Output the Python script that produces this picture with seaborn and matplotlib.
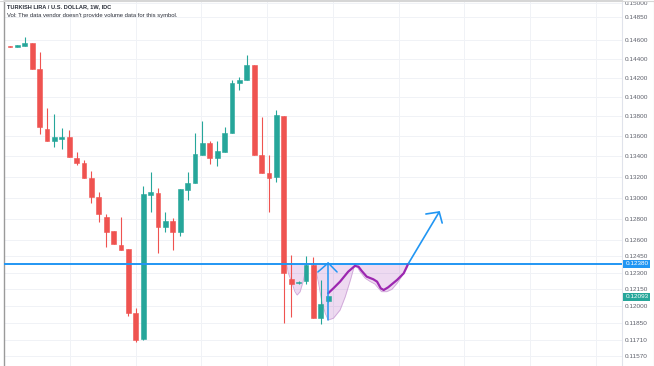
import matplotlib
matplotlib.use('Agg')
import matplotlib.pyplot as plt
import numpy as np
import seaborn as sns
from matplotlib.ticker import NullLocator
from matplotlib.lines import Line2D

# weekly candles, TRY/USD
opens = [0.14536, 0.14525, 0.14536, 0.14568, 0.14292, 0.13674, 0.13554, 0.13574, 0.13594, 0.13385,
         0.13336, 0.13190, 0.13006, 0.12816, 0.12685, 0.12555, 0.12518, 0.11941, 0.11714, 0.13026,
         0.13045, 0.12722, 0.12778, 0.12675, 0.13074, 0.13141, 0.13415, 0.13534, 0.13385, 0.13444,
         0.13634, 0.14145, 0.14176, 0.14334, 0.13415, 0.13238, 0.13200, 0.13805, 0.12244, 0.12208,
         0.12226, 0.12371, 0.11897, 0.12047]
highs = [0.14540, 0.14545, 0.14632, 0.14568, 0.14472, 0.13887, 0.13826, 0.13684, 0.13664, 0.13444,
         0.13366, 0.13258, 0.13054, 0.12844, 0.12685, 0.12816, 0.12518, 0.11985, 0.13112, 0.13248,
         0.13093, 0.12863, 0.12807, 0.13083, 0.13248, 0.13634, 0.13755, 0.13554, 0.13554, 0.13694,
         0.14176, 0.14208, 0.14440, 0.14334, 0.13795, 0.13415, 0.13866, 0.13805, 0.12462, 0.12226,
         0.12453, 0.12444, 0.12235, 0.12093]
lows = [0.14525, 0.14520, 0.14536, 0.14292, 0.13624, 0.13554, 0.13494, 0.13474, 0.13395, 0.13317,
        0.13190, 0.12949, 0.12769, 0.12536, 0.12564, 0.12508, 0.11915, 0.11689, 0.11706, 0.12863,
        0.12481, 0.12675, 0.12508, 0.12638, 0.12978, 0.13141, 0.13415, 0.13326, 0.13307, 0.13444,
        0.13634, 0.14072, 0.14176, 0.13415, 0.13238, 0.12863, 0.13151, 0.11854, 0.11906, 0.12199,
        0.12199, 0.11897, 0.11845, 0.12040]
closes = [0.14525, 0.14545, 0.14568, 0.14292, 0.13694, 0.13554, 0.13594, 0.13594, 0.13395, 0.13336,
          0.13190, 0.13006, 0.12844, 0.12675, 0.12564, 0.12508, 0.11941, 0.11706, 0.13035, 0.13054,
          0.12722, 0.12778, 0.12675, 0.13083, 0.13141, 0.13425, 0.13534, 0.13385, 0.13454, 0.13634,
          0.14145, 0.14176, 0.14334, 0.13415, 0.13238, 0.13190, 0.13816, 0.12298, 0.12199, 0.12217,
          0.12371, 0.11897, 0.12020, 0.12093]

yticks = [0.15000, 0.14850, 0.14600, 0.14400, 0.14200, 0.14000, 0.13800, 0.13600, 0.13400, 0.13200,
          0.13000, 0.12800, 0.12600, 0.12450, 0.12300, 0.12150, 0.12000, 0.11850, 0.11710, 0.11570]
vgrid = [8.1, 17.0, 25.8, 34.7, 43.6, 52.5, 61.4, 70.3, 79.2]

level = 0.12380
last_price = 0.12093

# drawn pattern (cup shapes and path)
cup_a_x = [37.4, 37.6, 38.1, 38.5, 38.8, 39.2, 39.6, 39.9, 40.0]
cup_a_low = [0.1238, 0.1230, 0.1221, 0.1213, 0.1210, 0.1213, 0.1222, 0.1231, 0.1238]
cup_b_x = [41.2, 41.7, 42.1, 42.6, 43.0, 43.7, 44.6, 45.3, 46.0, 46.6]
cup_b_low = [0.1238, 0.12205, 0.12056, 0.11938, 0.11880, 0.11895, 0.11967, 0.12085, 0.12235, 0.1238]
cup_c_x = [46.6, 46.9, 47.3, 48.0, 48.7, 49.3, 49.8, 50.2, 50.9, 51.6, 52.3, 52.9, 53.6, 53.8]
cup_c_low = [0.1238, 0.12355, 0.12310, 0.12250, 0.12220, 0.12199, 0.12160, 0.12130, 0.12130,
             0.12151, 0.12205, 0.12265, 0.12341, 0.1238]
path_x = [43.0, 43.7, 44.6, 45.7, 46.6, 47.1, 47.5, 48.2, 49.1, 49.6, 50.1, 50.5, 51.1, 52.3, 53.2, 53.8]
path_y = [0.12116, 0.12160, 0.12220, 0.12310, 0.12362, 0.12355, 0.12319, 0.12265, 0.12241, 0.12220,
          0.12160, 0.12145, 0.12169, 0.12235, 0.12295, 0.12380]

UP = '#26a69a'
DOWN = '#ef5350'
BLUE = '#2196f3'
PURPLE = '#9c27b0'

sns.set_style('white')
plt.rcParams['font.family'] = ['Liberation Sans', 'DejaVu Sans']

fig = plt.figure(figsize=(6.54, 3.66), dpi=100)
ax = fig.add_axes([4 / 654, 0, 618 / 654, 1])

idx = np.arange(len(opens))
o = np.array(opens)
c = np.array(closes)
cols = [UP if cc >= oo else DOWN for oo, cc in zip(o, c)]

ax.vlines(idx, lows, highs, colors=cols, linewidth=0.8, zorder=3)
ax.bar(idx, np.abs(c - o), bottom=np.minimum(o, c), width=0.66, color=cols,
       edgecolor=cols, linewidth=0.4, zorder=4)

# pattern fills
for xs, lo in [(cup_a_x, cup_a_low), (cup_b_x, cup_b_low), (cup_c_x, cup_c_low)]:
    ax.fill_between(xs, lo, level, color=PURPLE, alpha=0.17, linewidth=0, zorder=2)
    ax.plot(xs, lo, color='#cfa6d8', linewidth=0.6, zorder=2)

ax.axhline(level, color=BLUE, linewidth=1.4, zorder=5)
sns.lineplot(x=path_x, y=path_y, sort=False, color=PURPLE, linewidth=1.6, ax=ax, zorder=6)

# vertical arrow
ax.plot([43.0, 43.0], [0.11880, 0.12389], color=BLUE, linewidth=1.1, zorder=6)
ax.plot([41.6, 43.0, 44.2], [0.12307, 0.12389, 0.12307], color=BLUE, linewidth=1.1, zorder=6)
# breakout arrow
ax.plot([53.8, 58.0], [0.12380, 0.12863], color=BLUE, linewidth=1.2, zorder=6)
ax.plot([56.2, 58.0, 58.4], [0.12844, 0.12863, 0.12759], color=BLUE, linewidth=1.2, zorder=6)

ax.set_yscale('log')
ax.set_ylim(0.11484, 0.15036)
ax.set_xlim(-0.81, 82.7)
ax.yaxis.tick_right()
ax.set_yticks(yticks)
ax.set_yticklabels([f'{t:.5f}' for t in yticks])
ax.yaxis.set_minor_locator(NullLocator())
ax.set_xticks(vgrid)
ax.set_xticklabels([])
ax.tick_params(axis='both', length=0)
ax.tick_params(axis='y', labelsize=4.6, labelcolor='#5d606b', pad=2.2)
ax.grid(True, color='#f0f2f6', linewidth=0.7, zorder=0)
ax.set_axisbelow(True)

ax.spines['bottom'].set_visible(False)
ax.spines['left'].set_color('#9a9a9a')
ax.spines['left'].set_linewidth(1.0)
ax.spines['right'].set_color('#e0e3eb')
ax.spines['right'].set_linewidth(0.8)
ax.spines['top'].set_color('#d6d6d6')
ax.spines['top'].set_linewidth(0.8)

fig.add_artist(Line2D([653.5 / 654, 653.5 / 654], [0, 1], color='#c8c8c8', linewidth=0.8))
fig.add_artist(Line2D([0, 1], [365.5 / 366, 365.5 / 366], color='#d6d6d6', linewidth=0.8))

# price labels on the scale
trans = ax.get_yaxis_transform()
ax.text(1.0055, level, f'{level:.5f}', transform=trans, ha='left', va='center', fontsize=4.6,
        color='white', bbox=dict(boxstyle='square,pad=0.3', fc=BLUE, ec='none'), clip_on=False)
ax.text(1.0055, 0.12083, f'{last_price:.5f}', transform=trans, ha='left', va='center', fontsize=4.6,
        color='white', bbox=dict(boxstyle='square,pad=0.3', fc=UP, ec='none'), clip_on=False)

ax.text(3 / 618, 1 - 6.7 / 366, 'TURKISH LIRA / U.S. DOLLAR, 1W, IDC', transform=ax.transAxes,
        fontsize=4.1, fontweight='bold', color='#2a2e39', va='center', ha='left')
ax.text(3 / 618, 1 - 15.7 / 366, "Vol: The data vendor doesn't provide volume data for this symbol.",
        transform=ax.transAxes, fontsize=4.25, color='#2a2e39', va='center', ha='left')

fig.savefig('out.png', dpi=100)
